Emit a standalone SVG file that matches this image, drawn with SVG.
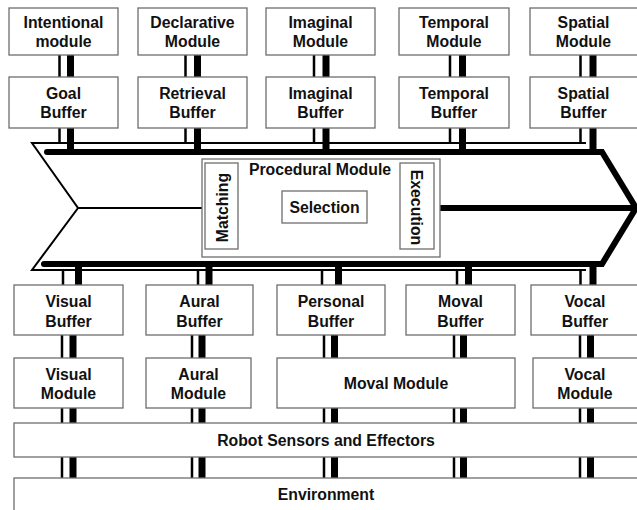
<svg xmlns="http://www.w3.org/2000/svg" width="637" height="510" viewBox="0 0 637 510">
<style>
.box{fill:#fff;stroke:#6e6e6e;stroke-width:1.3}
.t{font-family:"Liberation Sans",Arial,sans-serif;font-weight:bold;font-size:15.8px;fill:#111;text-anchor:middle}
.thin{stroke:#000;stroke-width:2.5;fill:none}
.thick{stroke:#000;stroke-width:7;fill:none}
.outline{stroke:#000;stroke-width:2;fill:none}
.bar{stroke:#000;stroke-width:6;fill:none;stroke-linecap:round;stroke-linejoin:miter}
</style>
<rect width="637" height="510" fill="#fff"/>

<g id="connectors">
  <!-- top modules to buffers -->
  <path class="thin" d="M59.5,55V77M185.5,55V77M314,55V77M450,55V77M580.5,55V77"/>
  <path class="thick" d="M70.5,55V77M197.5,55V77M326,55V77M462.5,55V77M593,55V77"/>
  <!-- buffers to procedural -->
  <path class="thin" d="M59.5,128V143M185.5,128V143M314,128V143M450,128V143M580.5,128V143"/>
  <path class="thick" d="M70.5,128V152M197.5,128V152M326,128V152M462.5,128V152M593,128V152"/>
  <!-- procedural to bottom buffers -->
  <path class="thin" d="M63,270V285M198,270V285M322,270V285M457,270V285M580.5,270V285"/>
  <path class="thick" d="M78.5,264V285M209,264V285M338.5,264V285M468.5,264V285M593,264V285"/>
  <!-- buffers to modules -->
  <path class="thin" d="M62,335V358M192,335V358M324,335V358M454,335V358M580,335V358"/>
  <path class="thick" d="M73,335V358M202,335V358M334.5,335V358M463.5,335V358M590.5,335V358"/>
  <!-- modules to robot -->
  <path class="thin" d="M62,408V423M192,408V423M324,408V423M454,408V423M580,408V423"/>
  <path class="thick" d="M73,408V423M202,408V423M334.5,408V423M463.5,408V423M590.5,408V423"/>
  <!-- robot to environment -->
  <path class="thin" d="M62,457V478M192,457V478M324,457V478M454,457V478M580,457V478"/>
  <path class="thick" d="M73,457V478M202,457V478M334.5,457V478M463.5,457V478M590.5,457V478"/>
</g>

<g id="procedural-arrow">
  <path class="outline" d="M586,143H32L78,208L32,270H586"/>
  <path class="outline" d="M78,208H205"/>
  <path class="bar" d="M47,152H602L636,208L602,264H44"/>
  <path class="bar" d="M433,208H640"/>
</g>

<g id="procedural-module">
  <rect class="box" x="202" y="159" width="238" height="98"/>
  <text class="t" x="320" y="175">Procedural Module</text>
</g>
<g id="matching">
  <rect class="box" x="205" y="163" width="33" height="86"/>
  <text class="t" transform="translate(227.5,207.5) rotate(-90)">Matching</text>
</g>
<g id="selection">
  <rect class="box" x="282" y="191" width="85" height="32"/>
  <text class="t" x="324.5" y="213">Selection</text>
</g>
<g id="execution">
  <rect class="box" x="400" y="163" width="34" height="86"/>
  <text class="t" transform="translate(411,207.5) rotate(90)">Execution</text>
</g>

<g id="intentional-module">
  <rect class="box" x="9" y="8" width="109" height="47"/>
  <text class="t" x="63.5" y="28">Intentional</text>
  <text class="t" x="63.5" y="47">module</text>
</g>
<g id="declarative-module">
  <rect class="box" x="138" y="8" width="109" height="47"/>
  <text class="t" x="192.5" y="28">Declarative</text>
  <text class="t" x="192.5" y="47">Module</text>
</g>
<g id="imaginal-module">
  <rect class="box" x="266" y="8" width="109" height="47"/>
  <text class="t" x="320.5" y="28">Imaginal</text>
  <text class="t" x="320.5" y="47">Module</text>
</g>
<g id="temporal-module">
  <rect class="box" x="399" y="8" width="110" height="47"/>
  <text class="t" x="454" y="28">Temporal</text>
  <text class="t" x="454" y="47">Module</text>
</g>
<g id="spatial-module">
  <rect class="box" x="530" y="8" width="120" height="47"/>
  <text class="t" x="583.5" y="28">Spatial</text>
  <text class="t" x="583.5" y="47">Module</text>
</g>

<g id="goal-buffer">
  <rect class="box" x="9" y="77" width="109" height="51"/>
  <text class="t" x="63.5" y="99">Goal</text>
  <text class="t" x="63.5" y="118">Buffer</text>
</g>
<g id="retrieval-buffer">
  <rect class="box" x="138" y="77" width="109" height="51"/>
  <text class="t" x="192.5" y="99">Retrieval</text>
  <text class="t" x="192.5" y="118">Buffer</text>
</g>
<g id="imaginal-buffer">
  <rect class="box" x="266" y="77" width="109" height="51"/>
  <text class="t" x="320.5" y="99">Imaginal</text>
  <text class="t" x="320.5" y="118">Buffer</text>
</g>
<g id="temporal-buffer">
  <rect class="box" x="399" y="77" width="110" height="51"/>
  <text class="t" x="454" y="99">Temporal</text>
  <text class="t" x="454" y="118">Buffer</text>
</g>
<g id="spatial-buffer">
  <rect class="box" x="530" y="77" width="120" height="51"/>
  <text class="t" x="583.5" y="99">Spatial</text>
  <text class="t" x="583.5" y="118">Buffer</text>
</g>

<g id="visual-buffer">
  <rect class="box" x="14" y="285" width="109" height="50"/>
  <text class="t" x="68.5" y="307">Visual</text>
  <text class="t" x="68.5" y="326.5">Buffer</text>
</g>
<g id="aural-buffer">
  <rect class="box" x="146" y="285" width="107" height="50"/>
  <text class="t" x="199.5" y="307">Aural</text>
  <text class="t" x="199.5" y="326.5">Buffer</text>
</g>
<g id="personal-buffer">
  <rect class="box" x="277" y="285" width="108" height="50"/>
  <text class="t" x="331" y="307">Personal</text>
  <text class="t" x="331" y="326.5">Buffer</text>
</g>
<g id="moval-buffer">
  <rect class="box" x="406" y="285" width="109" height="50"/>
  <text class="t" x="460.5" y="307">Moval</text>
  <text class="t" x="460.5" y="326.5">Buffer</text>
</g>
<g id="vocal-buffer">
  <rect class="box" x="531" y="285" width="120" height="50"/>
  <text class="t" x="585" y="307">Vocal</text>
  <text class="t" x="585" y="326.5">Buffer</text>
</g>

<g id="visual-module">
  <rect class="box" x="14" y="358" width="109" height="50"/>
  <text class="t" x="68.5" y="379.5">Visual</text>
  <text class="t" x="68.5" y="399">Module</text>
</g>
<g id="aural-module">
  <rect class="box" x="146" y="358" width="105" height="50"/>
  <text class="t" x="198.5" y="379.5">Aural</text>
  <text class="t" x="198.5" y="399">Module</text>
</g>
<g id="moval-module">
  <rect class="box" x="277" y="358" width="238" height="50"/>
  <text class="t" x="396" y="388.5">Moval Module</text>
</g>
<g id="vocal-module">
  <rect class="box" x="533" y="358" width="120" height="50"/>
  <text class="t" x="585" y="379.5">Vocal</text>
  <text class="t" x="585" y="399">Module</text>
</g>

<g id="robot-sensors">
  <rect class="box" x="14" y="423" width="640" height="34"/>
  <text class="t" x="326" y="445.5">Robot Sensors and Effectors</text>
</g>
<g id="environment">
  <rect class="box" x="14" y="478" width="640" height="50"/>
  <text class="t" x="326" y="500">Environment</text>
</g>
</svg>
